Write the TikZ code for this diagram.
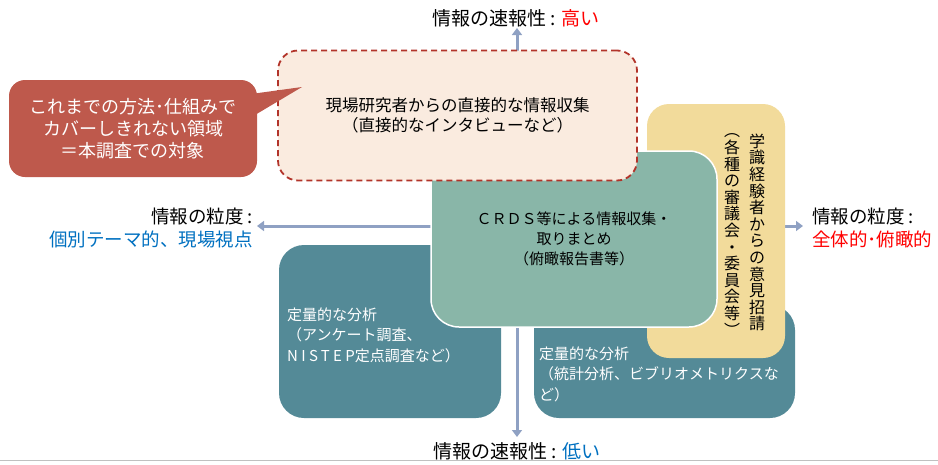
\documentclass[tikz,border=0pt]{standalone}
\usepackage{fontspec}
\setmainfont{Noto Sans CJK JP}
\usetikzlibrary{arrows.meta,calc}
\definecolor{calloutc}{RGB}{190,89,76}
\definecolor{peachc}{RGB}{250,235,223}
\definecolor{dashc}{RGB}{178,52,42}
\definecolor{yellowc}{RGB}{242,219,155}
\definecolor{greenc}{RGB}{137,182,168}
\definecolor{tealc}{RGB}{84,138,151}
\definecolor{axisc}{RGB}{143,161,195}
\definecolor{bluec}{RGB}{0,112,192}
\definecolor{redc}{RGB}{255,0,0}
\definecolor{rulec}{RGB}{192,192,192}
\begin{document}
\begin{tikzpicture}[x=1pt,y=-1pt,
  axis/.style={draw=axisc, line width=3pt, -{Triangle[length=7pt,width=10pt]}},
  lab/.style={font=\fontsize{19}{23}\selectfont, inner sep=0pt},
  sidelab/.style={font=\fontsize{18.5}{23}\selectfont, inner sep=0pt},
  panel/.style={rectangle, inner sep=0pt, rounded corners=25pt},
  boxtext/.style={font=\fontsize{15}{20.5}\selectfont, text=white, inner sep=0pt, align=left},
  vtext/.style={align=center, inner sep=0pt, font=\fontsize{16}{16.6}\selectfont}]
\useasboundingbox (0,0) rectangle (938,464);

% axes
\coordinate (o) at (517,226);
\coordinate (top) at (517,28);
\coordinate (bot) at (517,437);
\coordinate (lft) at (257,226);
\coordinate (rgt) at (803,226);
\draw[axis] (o) -- (top);
\draw[axis] (o) -- (bot);
\draw[axis] (o) -- (lft);
\draw[axis] (o) -- (rgt);

% axis labels
\node[lab] (toplab) at (516,18) {情報の速報性 : {\color{redc}高い}};
\node[lab] (botlab) at (517,451) {情報の速報性 : {\color{bluec}低い}};
\node[sidelab, anchor=east, align=right] (leftlab) at (253,228) {情報の粒度 :\\{\color{bluec}個別テーマ的、現場視点}};
\node[sidelab, anchor=west, align=left] (rightlab) at (812,228) {情報の粒度 :\\{\color{redc}全体的･俯瞰的}};

% bottom panels
\node[panel, fill=tealc, minimum width=222pt, minimum height=173pt] (qleft) at (390,331.5) {};
\node[boxtext, anchor=west] (qlefttext) at (287,335) {定量的な分析\\（アンケート調査、\\{\addfontfeature{LetterSpace=22}NISTEP}定点調査など）};
\node[panel, fill=tealc, minimum width=261pt, minimum height=113pt] (qright) at (664.5,361.5) {};
\node[boxtext, anchor=west] (qrighttext) at (539,374) {定量的な分析\\（統計分析、ビブリオメトリクスな\\ど）};

% expert box
\node[panel, rounded corners=22pt, fill=yellowc, minimum width=138pt, minimum height=254pt] (expert) at (716,231) {};
\node[vtext] (expA) at (757,232.5) {学\\識\\経\\験\\者\\か\\ら\\の\\意\\見\\招\\請};
\node[vtext] (expB) at (732,235) {︵\\各\\種\\の\\審\\議\\会\\・\\委\\員\\会\\等\\︶};

% CRDS box
\node[panel, rounded corners=28pt, fill=greenc, draw=white, line width=1.5pt,
      minimum width=286pt, minimum height=176pt, align=center,
      font=\fontsize{15}{20}\selectfont] (crds) at (574,239)
      {ＣＲＤＳ等による情報収集・\\取りまとめ\\（俯瞰報告書等）};

% field interview box
\node[panel, rounded corners=20pt, fill=peachc, draw=dashc, line width=1.8pt,
      dash pattern=on 6pt off 4pt, minimum width=359pt, minimum height=130pt,
      align=center, font=\fontsize{16.5}{20}\selectfont] (field) at (457.5,115.5)
      {現場研究者からの直接的な情報収集\\（直接的なインタビューなど）};

% callout
\node[panel, rounded corners=16pt, fill=calloutc, minimum width=248pt, minimum height=97pt,
      align=center, text=white, font=\fontsize{18}{22}\selectfont] (note) at (133,128.5)
      {これまでの方法･仕組みで\\カバーしきれない領域\\＝本調査での対象};
\coordinate (tip) at (302,87);
\fill[calloutc] ($(note.north east)+(-12,15)$) -- (tip) -- ($(note.north east)+(-12,41)$) -- cycle;

% bottom rule
\draw[rulec, line width=1.5pt] (0,460.5) -- (938,460.5);
\end{tikzpicture}
\end{document}
